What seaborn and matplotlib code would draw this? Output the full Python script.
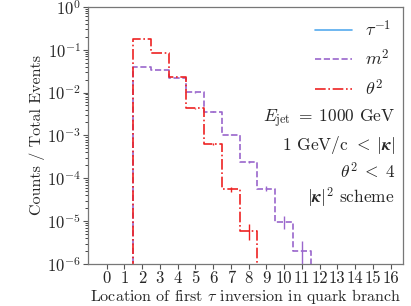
import numpy as np
import pandas as pd
import matplotlib
matplotlib.use("Agg")
import matplotlib.pyplot as plt
import seaborn as sns

# ---- data ----
bin_locations = [1, 2, 3, 4, 5, 6, 7, 8, 9, 10, 11, 12]
tau_inv_vals = [0, 0, 0, 0, 0, 0, 0, 0, 0, 0, 0, 0]
m2_vals = [0, 0.0388, 0.034, 0.0215, 0.0101, 0.00358, 1.03e-3, 2.41e-4, 5.76e-5, 9.8e-6, 2.0e-6, 0]
m2_errs = [0, 2.0e-4, 1.8e-4, 1.5e-4, 1.0e-4, 6.0e-5, 3.2e-5, 1.55e-5, 7.6e-6, 3.1e-6, 1.4e-6, 0]
theta2_locations = [1, 2, 3, 4, 5, 6, 7, 8, 9]
theta2_vals = [0, 0.174, 0.082, 0.0227, 0.0043, 6.3e-4, 5.6e-5, 6.0e-6, 0]
theta2_errs = [0, 4.2e-4, 2.9e-4, 1.5e-4, 6.6e-5, 2.5e-5, 7.5e-6, 2.45e-6, 0]
x_ticks = list(range(0, 17))
legend_labels = [r"$\tau^{-1}$", r"$m^2$", r"$\theta^2$"]
info_lines = [r"$E_{\rm jet}\;=\;1000$ GeV",
              r"1 GeV/c $<\;|\boldsymbol{\kappa}|$",
              r"$\theta^2\;<\;4$",
              r"$|\boldsymbol{\kappa}|^2$ scheme"]

sns.set_style("ticks")
plt.rcParams["font.family"] = ["cmr10"]
plt.rcParams["mathtext.fontset"] = "cm"
plt.rcParams["axes.formatter.use_mathtext"] = True

c_blue = "#55aaee"
c_purple = "#9a66cc"
c_red = "#ee2222"

fig = plt.figure(figsize=(4.11, 3.06), dpi=100)
ax = fig.add_axes([0.214, 0.137, 0.7665, 0.841])
ax.set_yscale("log", nonpositive="clip")

edges = [b - 0.5 for b in bin_locations] + [bin_locations[-1] + 0.5]
edges_t = [b - 0.5 for b in theta2_locations] + [theta2_locations[-1] + 0.5]

df_all = pd.DataFrame({"loc": bin_locations, "tau": tau_inv_vals, "m2": m2_vals})
df_t = pd.DataFrame({"loc": theta2_locations, "theta": theta2_vals})

sns.histplot(data=df_all, x="loc", weights="tau", bins=edges, element="step",
             fill=False, color=c_blue, linestyle="-", linewidth=1.2,
             label=legend_labels[0], ax=ax)
sns.histplot(data=df_all, x="loc", weights="m2", bins=edges, element="step",
             fill=False, color=c_purple, linestyle="--", linewidth=1.2,
             label=legend_labels[1], ax=ax)
sns.histplot(data=df_t, x="loc", weights="theta", bins=edges_t, element="step",
             fill=False, color=c_red, linestyle="-.", linewidth=1.2,
             label=legend_labels[2], ax=ax)

m_mask = [v > 0 for v in m2_vals]
t_mask = [v > 0 for v in theta2_vals]
ax.errorbar([b for b, k in zip(bin_locations, m_mask) if k],
            [v for v, k in zip(m2_vals, m_mask) if k],
            yerr=[e for e, k in zip(m2_errs, m_mask) if k],
            fmt="none", ecolor=c_purple, elinewidth=1.0)
ax.errorbar([b for b, k in zip(theta2_locations, t_mask) if k],
            [v for v, k in zip(theta2_vals, t_mask) if k],
            yerr=[e for e, k in zip(theta2_errs, t_mask) if k],
            fmt="none", ecolor=c_red, elinewidth=1.0)

ax.set_ylim(1e-6, 1)
ax.set_xlim(-1.05, 16.7)
ax.set_xticks(x_ticks)
ax.set_xticklabels([str(t) for t in x_ticks])
ax.set_xlabel(r"Location of first $\tau$ inversion in quark branch", fontsize=11.5)
ax.xaxis.set_label_coords(0.5, -0.09)
ax.set_ylabel("Counts / Total Events", fontsize=11.5)
ax.yaxis.set_label_coords(-0.135, 0.5)
ax.tick_params(axis="both", labelsize=12, color="#555555", pad=1.5, length=3.5)
for s in ax.spines.values():
    s.set_color("#777777")
    s.set_linewidth(0.9)

ax.legend(loc="upper right", frameon=False, fontsize=13, handlelength=2.1,
          handletextpad=0.7, labelspacing=0.5, borderaxespad=0.25)

for i, t in enumerate(info_lines):
    ax.text(0.975, 0.565 - i * 0.102, t, transform=ax.transAxes, ha="right",
            va="center", fontsize=12.5)

fig.savefig("out.png", dpi=100)
